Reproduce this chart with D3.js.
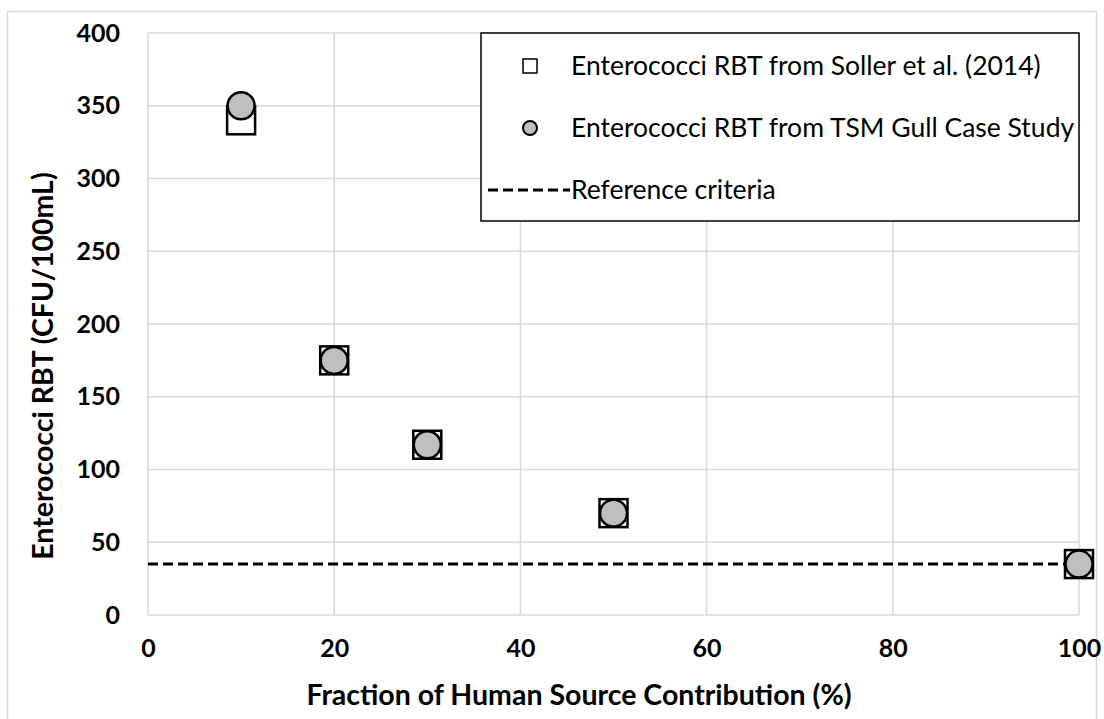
<!DOCTYPE html>
<html>
<head>
<meta charset="utf-8">
<script src="https://cdn.jsdelivr.net/npm/d3@7"></script>
<style>
  body { margin: 0; background: #fff; }
  svg { font-family: Lato, "Open Sans", sans-serif; }
</style>
</head>
<body>
<script>
//chart data
var fractions = [10, 20, 30, 50, 100]; //human source contribution (%)
var sollerValues = [340, 175, 117, 70, 35]; //Soller et al. (2014)
var gullValues = [350, 175, 117, 70, 35]; //TSM Gull case study
var referenceValue = 35; //reference criteria
var xTicks = [0, 20, 40, 60, 80, 100];
var yTicks = [0, 50, 100, 150, 200, 250, 300, 350, 400];
var legendLabels = ["Enterococci RBT from Soller et al. (2014)", "Enterococci RBT from TSM Gull Case Study", "Reference criteria"];

var width = 1104, height = 719;
var plotLeft = 148, plotRight = 1079, plotTop = 33, plotBottom = 615;

var svg = d3.select("body").append("svg")
    .attr("width", width)
    .attr("height", height);

//outer chart border
svg.append("rect")
    .attr("x", 7.5).attr("y", 11.5)
    .attr("width", 1089).attr("height", 720)
    .attr("fill", "#fff")
    .attr("stroke", "#d9d9d9")
    .attr("stroke-width", 1.5);

var x = d3.scaleLinear().domain([0, 100]).range([plotLeft, plotRight]);
var y = d3.scaleLinear().domain([0, 400]).range([plotBottom, plotTop]);

//gridlines
svg.append("g").selectAll("line.h")
    .data(yTicks).enter().append("line")
    .attr("x1", plotLeft).attr("x2", plotRight)
    .attr("y1", function(d){ return y(d); })
    .attr("y2", function(d){ return y(d); })
    .attr("stroke", "#d9d9d9").attr("stroke-width", 1.5);

svg.append("g").selectAll("line.v")
    .data(xTicks).enter().append("line")
    .attr("y1", plotTop).attr("y2", plotBottom)
    .attr("x1", function(d){ return x(d); })
    .attr("x2", function(d){ return x(d); })
    .attr("stroke", "#d9d9d9").attr("stroke-width", 1.5);

//axes (labels only)
var yAxis = svg.append("g")
    .attr("transform", "translate(" + plotLeft + ",0)")
    .call(d3.axisLeft(y).tickValues(yTicks).tickSize(0).tickPadding(28));
var xAxis = svg.append("g")
    .attr("transform", "translate(0," + plotBottom + ")")
    .call(d3.axisBottom(x).tickValues(xTicks).tickSize(0).tickPadding(24));
[xAxis, yAxis].forEach(function(a){
    a.select(".domain").remove();
    a.selectAll("text")
        .attr("fill", "#000")
        .style("font-family", "Lato, sans-serif")
        .style("font-size", "25px")
        .style("font-weight", "bold");
});

//axis titles
svg.append("text")
    .attr("x", 579).attr("y", 705)
    .attr("text-anchor", "middle")
    .style("font-size", "28.5px").style("font-weight", "bold")
    .text("Fraction of Human Source Contribution (%)");

svg.append("text")
    .attr("transform", "translate(53,366) rotate(-90)")
    .attr("text-anchor", "middle")
    .style("font-size", "28.5px").style("font-weight", "bold")
    .text("Enterococci RBT (CFU/100mL)");

//reference criteria line
svg.append("line")
    .attr("x1", x(0)).attr("x2", x(100))
    .attr("y1", y(referenceValue)).attr("y2", y(referenceValue))
    .attr("stroke", "#000").attr("stroke-width", 3)
    .attr("stroke-dasharray", "10,5");

//Soller squares
var sq = 28;
svg.append("g").selectAll("rect")
    .data(fractions).enter().append("rect")
    .attr("x", function(d){ return x(d) - sq / 2; })
    .attr("y", function(d, i){ return y(sollerValues[i]) - sq / 2; })
    .attr("width", sq).attr("height", sq)
    .attr("fill", "#fff").attr("stroke", "#000").attr("stroke-width", 2.5);

//Gull circles
svg.append("g").selectAll("circle")
    .data(fractions).enter().append("circle")
    .attr("cx", function(d){ return x(d); })
    .attr("cy", function(d, i){ return y(gullValues[i]); })
    .attr("r", 13.5)
    .attr("fill", "#bfbfbf").attr("stroke", "#000").attr("stroke-width", 2.5);

//legend
var legend = svg.append("g");
legend.append("rect")
    .attr("x", 481).attr("y", 33)
    .attr("width", 598).attr("height", 188)
    .attr("fill", "#fff").attr("stroke", "#000").attr("stroke-width", 1.5);

var rowY = [66, 128, 190];
legend.append("rect")
    .attr("x", 523).attr("y", rowY[0] - 7)
    .attr("width", 14).attr("height", 14)
    .attr("fill", "#fff").attr("stroke", "#000").attr("stroke-width", 1.5);
legend.append("circle")
    .attr("cx", 530).attr("cy", rowY[1])
    .attr("r", 7)
    .attr("fill", "#bfbfbf").attr("stroke", "#000").attr("stroke-width", 2);
legend.append("line")
    .attr("x1", 488).attr("x2", 570)
    .attr("y1", rowY[2]).attr("y2", rowY[2])
    .attr("stroke", "#000").attr("stroke-width", 3)
    .attr("stroke-dasharray", "10,5");

legend.selectAll("text.lab")
    .data(legendLabels).enter().append("text")
    .attr("x", 571)
    .attr("y", function(d, i){ return rowY[i]; })
    .attr("dy", "0.35em")
    .style("font-size", "26.5px")
    .text(function(d){ return d; });
</script>
</body>
</html>
